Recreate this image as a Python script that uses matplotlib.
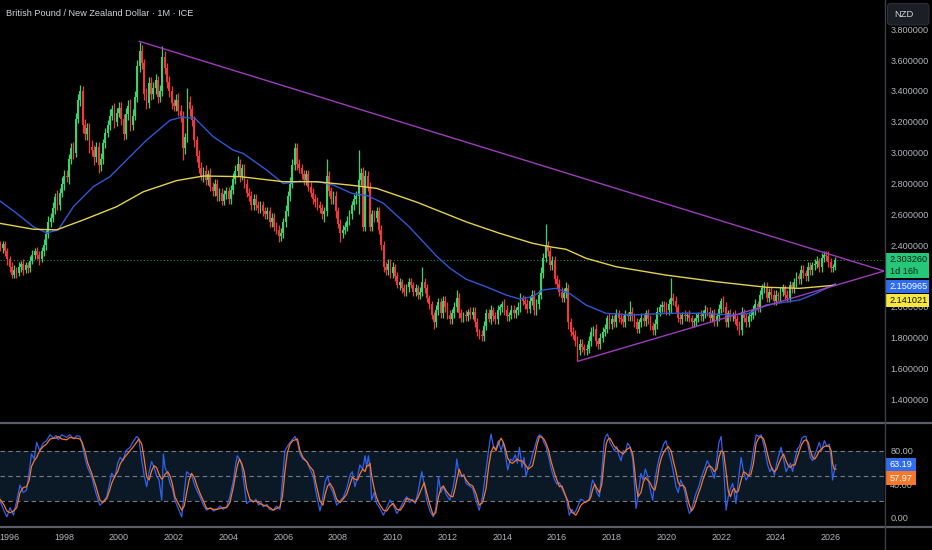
import numpy as np
import matplotlib.pyplot as plt
from matplotlib.patches import Rectangle, FancyBboxPatch

# ---- data ----
# monthly closes GBP/NZD, Aug 1995 .. Mar 2026
close = [
    2.40, 2.38, 2.41, 2.36, 2.31,                                        # 1995 Aug-Dec
    2.26, 2.21, 2.24, 2.22, 2.26, 2.28, 2.24, 2.27, 2.25, 2.30, 2.34, 2.36,  # 1996
    2.34, 2.31, 2.36, 2.40, 2.47, 2.55, 2.58, 2.64, 2.71, 2.66, 2.74, 2.80,  # 1997
    2.85, 2.84, 2.96, 3.03, 3.00, 3.22, 3.34, 3.40, 3.18, 3.12, 3.16, 3.04,  # 1998
    3.02, 2.97, 3.04, 2.92, 2.96, 3.06, 3.13, 3.18, 3.24, 3.28, 3.20, 3.26,  # 1999
    3.29, 3.22, 3.12, 3.25, 3.30, 3.18, 3.24, 3.36, 3.56, 3.66, 3.58, 3.38,  # 2000
    3.32, 3.45, 3.38, 3.42, 3.47, 3.36, 3.40, 3.62, 3.55, 3.46, 3.40, 3.32,  # 2001
    3.30, 3.34, 3.27, 3.24, 3.03, 3.10, 3.33, 3.28, 3.21, 3.08, 2.98, 2.90,  # 2002
    2.85, 2.88, 2.82, 2.86, 2.78, 2.75, 2.80, 2.72, 2.74, 2.69, 2.73, 2.75,  # 2003
    2.70, 2.76, 2.83, 2.88, 2.93, 2.85, 2.90, 2.80, 2.74, 2.72, 2.66, 2.70,  # 2004
    2.66, 2.64, 2.66, 2.62, 2.60, 2.62, 2.55, 2.58, 2.52, 2.50, 2.46, 2.48,  # 2005
    2.55, 2.62, 2.72, 2.80, 2.92, 3.03, 2.93, 2.90, 2.86, 2.82, 2.86, 2.78,  # 2006
    2.74, 2.70, 2.68, 2.66, 2.64, 2.60, 2.62, 2.85, 2.75, 2.70, 2.72, 2.62,  # 2007
    2.54, 2.48, 2.50, 2.52, 2.56, 2.60, 2.66, 2.70, 2.72, 2.82, 2.87, 2.52,  # 2008
    2.85, 2.78, 2.52, 2.60, 2.58, 2.62, 2.50, 2.40, 2.26, 2.24, 2.28, 2.22,  # 2009
    2.26, 2.20, 2.14, 2.16, 2.12, 2.10, 2.13, 2.16, 2.14, 2.10, 2.12, 2.08,  # 2010
    2.10, 2.16, 2.12, 2.06, 2.02, 1.95, 1.90, 1.98, 2.03, 1.96, 2.04, 2.00,  # 2011
    1.95, 1.92, 1.96, 2.00, 2.06, 1.96, 1.93, 1.95, 1.94, 1.97, 1.95, 1.97,  # 2012
    1.90, 1.84, 1.82, 1.81, 1.88, 1.96, 1.92, 1.98, 1.94, 1.92, 1.98, 2.00,  # 2013
    2.02, 1.98, 1.94, 1.95, 1.98, 1.96, 1.98, 2.00, 2.06, 2.04, 2.02, 1.99,  # 2014
    2.04, 2.08, 1.98, 2.02, 2.08, 2.22, 2.32, 2.40, 2.36, 2.27, 2.30, 2.18,  # 2015
    2.15, 2.10, 2.06, 2.09, 2.12, 1.90, 1.84, 1.82, 1.78, 1.72, 1.76, 1.74,  # 2016
    1.72, 1.73, 1.78, 1.84, 1.86, 1.78, 1.76, 1.80, 1.84, 1.86, 1.93, 1.89,  # 2017
    1.92, 1.90, 1.96, 1.93, 1.92, 1.90, 1.95, 1.94, 1.97, 1.94, 1.90, 1.86,  # 2018
    1.90, 1.93, 1.91, 1.96, 1.92, 1.88, 1.85, 1.89, 1.97, 2.00, 2.01, 2.00,  # 2019
    1.98, 2.02, 2.06, 2.04, 2.00, 1.93, 1.92, 1.95, 1.94, 1.95, 1.93, 1.90,  # 2020
    1.91, 1.93, 1.95, 1.94, 1.96, 1.98, 1.97, 1.93, 1.96, 1.91, 1.94, 1.99,  # 2021
    2.04, 2.00, 1.90, 1.96, 1.94, 1.95, 1.92, 1.88, 1.85, 1.97, 1.93, 1.90,  # 2022
    1.94, 1.95, 1.98, 2.02, 2.00, 2.08, 2.12, 2.13, 2.06, 2.10, 2.08, 2.04,  # 2023
    2.08, 2.07, 2.10, 2.12, 2.08, 2.06, 2.14, 2.12, 2.16, 2.20, 2.18, 2.24,  # 2024
    2.22, 2.20, 2.26, 2.24, 2.27, 2.28, 2.30, 2.26, 2.32, 2.34, 2.33, 2.29,  # 2025
    2.255, 2.26, 2.30326,                                                # 2026
]
first_open = 2.42

# wick beyond the body, in 0.01 NZD
wick_up = [
    2, 3, 2, 2, 2,
    2, 3, 3, 2, 3, 2, 3, 2, 2, 3, 3, 2,
    3, 2, 3, 4, 3, 4, 3, 4, 3, 5, 3, 4,
    4, 4, 3, 3, 4, 4, 4, 4, 3, 4, 3, 3,
    4, 3, 3, 3, 4, 3, 3, 3, 4, 3, 4, 3,
    4, 4, 3, 4, 4, 5, 4, 4, 4, 6, 4, 3,
    4, 4, 4, 4, 4, 3, 4, 7, 4, 3, 4, 3,
    3, 4, 5, 4, 3, 3, 9, 4, 3, 3, 3, 4,
    4, 3, 4, 3, 4, 3, 3, 3, 3, 3, 3, 3,
    3, 3, 4, 4, 5, 3, 3, 3, 3, 3, 3, 3,
    3, 3, 3, 3, 3, 3, 3, 3, 3, 3, 3, 3,
    3, 4, 3, 4, 4, 3, 3, 3, 3, 3, 3, 3,
    3, 3, 3, 3, 3, 3, 3, 11, 3, 3, 3, 3,
    3, 3, 3, 3, 3, 3, 3, 3, 3, 20, 3, 4,
    4, 3, 3, 3, 3, 3, 3, 3, 3, 3, 3, 3,
    3, 2, 3, 3, 2, 3, 2, 3, 3, 2, 3, 2,
    3, 10, 3, 3, 2, 2, 2, 3, 3, 3, 3, 3,
    3, 3, 3, 3, 5, 3, 3, 2, 3, 2, 3, 3,
    3, 3, 2, 3, 3, 3, 3, 3, 2, 3, 3, 2,
    2, 3, 3, 2, 3, 3, 2, 3, 3, 2, 3, 3,
    3, 3, 3, 3, 3, 4, 3, 14, 3, 3, 3, 3,
    3, 3, 3, 3, 4, 3, 3, 3, 3, 3, 3, 3,
    2, 3, 3, 3, 2, 3, 2, 3, 3, 3, 2, 3,
    3, 3, 3, 2, 3, 3, 3, 2, 7, 3, 2, 3,
    2, 3, 3, 2, 3, 3, 2, 3, 3, 2, 3, 3,
    3, 3, 13, 3, 3, 2, 3, 2, 3, 2, 3, 2,
    2, 3, 2, 3, 2, 3, 2, 3, 2, 3, 2, 3,
    2, 3, 3, 2, 3, 2, 3, 3, 3, 3, 2, 3,
    3, 3, 3, 3, 2, 3, 3, 3, 3, 2, 3, 3,
    3, 2, 3, 3, 2, 3, 3, 2, 3, 3, 2, 3,
    3, 2, 3, 3, 2, 3, 3, 2, 3, 2, 2, 3,
    3, 2, 2,
]
wick_dn = [
    3, 2, 3, 3, 4,
    3, 2, 2, 3, 2, 3, 3, 2, 3, 2, 2, 3,
    3, 4, 2, 3, 3, 2, 3, 3, 4, 3, 3, 3,
    4, 3, 4, 3, 4, 3, 3, 4, 5, 4, 4, 4,
    4, 5, 3, 5, 4, 3, 3, 3, 3, 3, 4, 3,
    3, 4, 4, 3, 4, 4, 3, 3, 3, 4, 4, 4,
    4, 3, 4, 3, 4, 4, 3, 3, 4, 4, 4, 4,
    3, 3, 3, 4, 8, 4, 3, 4, 4, 4, 4, 3,
    3, 4, 3, 3, 3, 3, 3, 3, 3, 3, 3, 3,
    3, 3, 3, 3, 3, 4, 3, 3, 3, 3, 3, 3,
    3, 3, 3, 3, 3, 3, 3, 3, 3, 3, 4, 3,
    3, 3, 3, 3, 3, 3, 4, 3, 3, 3, 3, 3,
    3, 3, 3, 3, 3, 3, 5, 3, 3, 3, 3, 4,
    3, 6, 3, 3, 3, 3, 3, 3, 3, 12, 3, 3,
    3, 3, 3, 3, 3, 3, 3, 3, 3, 3, 3, 3,
    3, 3, 2, 3, 3, 3, 3, 3, 2, 3, 3, 3,
    3, 3, 3, 3, 3, 3, 4, 3, 3, 3, 3, 3,
    3, 3, 3, 3, 3, 3, 3, 3, 3, 3, 3, 3,
    3, 3, 3, 3, 3, 3, 2, 3, 3, 3, 3, 3,
    3, 3, 3, 3, 3, 3, 3, 3, 3, 3, 3, 3,
    3, 3, 3, 3, 3, 3, 3, 3, 3, 3, 3, 3,
    3, 3, 3, 3, 3, 4, 3, 3, 3, 7, 3, 3,
    3, 3, 3, 3, 3, 3, 3, 3, 3, 3, 3, 3,
    3, 3, 3, 3, 3, 3, 3, 3, 3, 3, 3, 3,
    3, 3, 3, 3, 3, 3, 3, 3, 3, 3, 3, 3,
    3, 3, 6, 3, 3, 3, 3, 3, 3, 3, 3, 3,
    3, 3, 3, 3, 3, 3, 3, 3, 3, 3, 3, 3,
    3, 3, 3, 3, 3, 3, 3, 3, 3, 3, 3, 3,
    3, 3, 3, 3, 3, 3, 3, 3, 3, 3, 3, 3,
    3, 3, 3, 3, 3, 3, 3, 3, 3, 3, 3, 3,
    3, 3, 3, 3, 3, 3, 3, 3, 3, 3, 3, 3,
    3, 3, 2,
]

# moving averages (sampled from the chart)
ma_fast_t = [1995.65, 1996.26, 1996.87, 1997.36, 1997.78, 1998.33, 1999.06, 1999.67,
             2000.52, 2001.01, 2001.86, 2002.29, 2002.77, 2003.44, 2004.17, 2004.54,
             2005.39, 2006.0, 2006.61, 2007.34, 2007.83, 2008.5, 2009.1, 2009.66,
             2010.6, 2011.6, 2012.1, 2012.68, 2013.4, 2014.14, 2014.62, 2015.11,
             2015.48, 2015.96, 2016.45, 2017.06, 2017.79, 2018.77, 2019.98, 2021.2,
             2022.42, 2023.03, 2023.64, 2024.86, 2025.47, 2026.17]
ma_fast_v = [2.687, 2.607, 2.52, 2.48, 2.50, 2.65, 2.78, 2.845,
             2.996, 3.082, 3.21, 3.23, 3.223, 3.104, 3.017, 2.995,
             2.888, 2.80, 2.815, 2.81, 2.79, 2.737, 2.72, 2.672,
             2.52, 2.33, 2.25, 2.18, 2.132, 2.078, 2.052, 2.067,
             2.11, 2.121, 2.089, 2.013, 1.959, 1.948, 1.959, 1.959,
             1.948, 1.959, 2.013, 2.045, 2.089, 2.150965]
ma_slow_t = [1995.65, 1996.87, 1997.72, 1998.69, 1999.91, 2000.89, 2002.1, 2003.08,
             2004.42, 2006.0, 2007.22, 2008.44, 2009.41, 2010.87, 2012.68, 2013.9,
             2015.11, 2015.72, 2016.33, 2017.06, 2018.16, 2019.98, 2021.81, 2023.64,
             2024.86, 2026.17]
ma_slow_v = [2.542, 2.504, 2.50, 2.564, 2.65, 2.747, 2.819, 2.849,
             2.845, 2.812, 2.812, 2.79, 2.769, 2.68, 2.552, 2.478,
             2.413, 2.391, 2.374, 2.316, 2.261, 2.207, 2.164, 2.128,
             2.121, 2.141021]

# triangle trend lines
trend_hi_t = [2000.74, 2027.95]
trend_hi_v = [3.722, 2.233]
trend_lo_t = [2016.76, 2027.95]
trend_lo_v = [1.648, 2.233]

# stochastic RSI (%K, %D) sampled from the lower pane
stoch = [
    (1995.65, 20, 22), (1995.80, 8, 15), (1995.90, 1, 8), (1996.02, 12, 6), (1996.14, 3, 8),
    (1996.26, 20, 12), (1996.38, 39, 30), (1996.50, 30, 36), (1996.62, 33, 37), (1996.72, 55, 45),
    (1996.80, 76, 61), (1996.90, 70, 68), (1996.99, 90, 72), (1997.10, 80, 80), (1997.23, 89, 85),
    (1997.35, 92, 88), (1997.48, 99, 94), (1997.60, 95, 95), (1997.70, 98, 95), (1997.78, 93, 97),
    (1997.90, 99, 94), (1998.09, 96, 93), (1998.20, 99, 96), (1998.35, 94, 95), (1998.45, 98, 95),
    (1998.57, 97, 94), (1998.65, 88, 90), (1998.75, 72, 80), (1998.85, 60, 66), (1999.00, 49, 53),
    (1999.15, 30, 38), (1999.30, 15, 21), (1999.40, 18, 18), (1999.55, 25, 23), (1999.65, 40, 32),
    (1999.73, 53, 41), (1999.85, 48, 50), (1999.95, 65, 55), (2000.04, 72, 64), (2000.15, 68, 70),
    (2000.25, 80, 74), (2000.40, 84, 80), (2000.50, 90, 84), (2000.64, 97, 90), (2000.72, 95, 94),
    (2000.83, 68, 88), (2000.92, 50, 70), (2001.01, 37, 49), (2001.10, 55, 45), (2001.19, 67, 56),
    (2001.28, 60, 62), (2001.37, 50, 60), (2001.46, 45, 52), (2001.56, 21, 46), (2001.62, 76, 48),
    (2001.68, 60, 52), (2001.78, 52, 55), (2001.86, 41, 50), (2001.95, 35, 40), (2002.04, 21, 25),
    (2002.15, 12, 18), (2002.29, 1, 9), (2002.38, 30, 14), (2002.47, 55, 30), (2002.56, 52, 45),
    (2002.65, 51, 53), (2002.75, 40, 48), (2002.85, 32, 38), (2002.96, 25, 29), (2003.08, 15, 20),
    (2003.20, 9, 11), (2003.35, 12, 11), (2003.45, 8, 10), (2003.57, 10, 10), (2003.70, 14, 11),
    (2003.80, 10, 12), (2003.93, 13, 12), (2004.05, 25, 18), (2004.18, 45, 37), (2004.25, 62, 50),
    (2004.32, 74, 62), (2004.40, 70, 70), (2004.48, 63, 65), (2004.57, 40, 55), (2004.66, 17, 35),
    (2004.78, 20, 22), (2004.91, 19, 19), (2005.00, 22, 20), (2005.10, 15, 18), (2005.20, 18, 16),
    (2005.27, 13, 15), (2005.40, 16, 14), (2005.50, 10, 12), (2005.64, 9, 9), (2005.75, 14, 11),
    (2005.88, 10, 13), (2005.97, 45, 25), (2006.06, 80, 55), (2006.15, 85, 78), (2006.25, 90, 88),
    (2006.35, 94, 92), (2006.43, 97, 93), (2006.52, 90, 94), (2006.61, 76, 80), (2006.72, 70, 72),
    (2006.86, 67, 67), (2006.95, 60, 62), (2007.10, 49, 56), (2007.20, 30, 40), (2007.34, 8, 20),
    (2007.45, 25, 15), (2007.53, 43, 28), (2007.62, 50, 38), (2007.71, 37, 41), (2007.82, 30, 35),
    (2007.95, 15, 22), (2008.08, 20, 18), (2008.20, 25, 23), (2008.32, 35, 28), (2008.44, 51, 40),
    (2008.52, 55, 48), (2008.62, 37, 46), (2008.72, 50, 45), (2008.80, 63, 52), (2008.90, 58, 58),
    (2008.99, 74, 55), (2009.05, 60, 62), (2009.11, 74, 62), (2009.17, 60, 65), (2009.23, 21, 50),
    (2009.32, 30, 35), (2009.41, 17, 24), (2009.52, 12, 16), (2009.66, 3, 9), (2009.78, 12, 8),
    (2009.90, 21, 14), (2010.02, 15, 17), (2010.15, 5, 10), (2010.28, 12, 9), (2010.40, 20, 15),
    (2010.51, 25, 23), (2010.62, 18, 22), (2010.72, 22, 20), (2010.82, 17, 19), (2010.92, 30, 24),
    (2011.06, 55, 35), (2011.15, 40, 42), (2011.24, 21, 30), (2011.36, 8, 15), (2011.48, 1, 3),
    (2011.57, 10, 6), (2011.67, 49, 25), (2011.76, 30, 35), (2011.85, 37, 38), (2011.95, 28, 32),
    (2012.09, 21, 26), (2012.20, 35, 25), (2012.28, 50, 35), (2012.34, 70, 45), (2012.43, 50, 58),
    (2012.52, 49, 50), (2012.60, 52, 50), (2012.68, 41, 45), (2012.80, 38, 40), (2012.92, 35, 38),
    (2013.05, 20, 28), (2013.16, 9, 15), (2013.28, 25, 18), (2013.41, 57, 35), (2013.50, 80, 60),
    (2013.59, 100, 78), (2013.68, 85, 85), (2013.77, 82, 80), (2013.86, 92, 88), (2013.96, 80, 95),
    (2014.04, 90, 90), (2014.12, 75, 82), (2014.20, 57, 71), (2014.30, 70, 66), (2014.38, 68, 65),
    (2014.48, 75, 68), (2014.55, 65, 70), (2014.63, 84, 68), (2014.72, 60, 68), (2014.80, 72, 65),
    (2014.87, 49, 62), (2014.95, 60, 58), (2015.03, 65, 60), (2015.11, 76, 62), (2015.20, 85, 75),
    (2015.28, 95, 88), (2015.36, 99, 97), (2015.45, 97, 96), (2015.52, 90, 94), (2015.60, 85, 89),
    (2015.70, 72, 80), (2015.78, 60, 68), (2015.84, 53, 61), (2015.92, 45, 52), (2016.00, 40, 45),
    (2016.09, 42, 37), (2016.18, 35, 38), (2016.25, 30, 32), (2016.33, 25, 25), (2016.40, 12, 20),
    (2016.45, 3, 12), (2016.55, 10, 6), (2016.62, 5, 5), (2016.69, 8, 3), (2016.78, 15, 8),
    (2016.86, 22, 14), (2016.94, 21, 17), (2017.05, 18, 19), (2017.18, 22, 21), (2017.24, 35, 25),
    (2017.30, 45, 33), (2017.38, 40, 40), (2017.46, 30, 35), (2017.55, 25, 30), (2017.64, 55, 40),
    (2017.73, 92, 70), (2017.80, 98, 88), (2017.85, 100, 93), (2017.93, 90, 95), (2018.02, 85, 90),
    (2018.10, 80, 85), (2018.18, 85, 83), (2018.26, 75, 80), (2018.34, 68, 78), (2018.42, 80, 76),
    (2018.50, 78, 80), (2018.58, 89, 82), (2018.67, 85, 84), (2018.77, 70, 76), (2018.83, 40, 60),
    (2018.89, 11, 40), (2018.96, 25, 25), (2019.07, 53, 30), (2019.15, 45, 42), (2019.23, 58, 48),
    (2019.31, 50, 45), (2019.40, 35, 42), (2019.50, 21, 35), (2019.58, 45, 33), (2019.66, 60, 45),
    (2019.74, 72, 62), (2019.82, 80, 72), (2019.90, 88, 78), (2019.98, 92, 82), (2020.07, 80, 85),
    (2020.17, 68, 80), (2020.25, 55, 68), (2020.35, 37, 55), (2020.43, 30, 42), (2020.52, 45, 38),
    (2020.60, 39, 39), (2020.68, 30, 36), (2020.76, 15, 25), (2020.84, 5, 15), (2020.92, 10, 8),
    (2021.00, 20, 12), (2021.08, 29, 20), (2021.16, 35, 28), (2021.25, 45, 36), (2021.33, 53, 45),
    (2021.41, 60, 52), (2021.49, 68, 60), (2021.57, 63, 62), (2021.66, 55, 60), (2021.75, 47, 55),
    (2021.84, 70, 58), (2021.92, 90, 72), (2022.00, 97, 80), (2022.09, 60, 78), (2022.18, 9, 55),
    (2022.26, 25, 32), (2022.34, 35, 25), (2022.42, 41, 33), (2022.48, 30, 35), (2022.54, 17, 30),
    (2022.63, 45, 32), (2022.73, 72, 45), (2022.82, 55, 55), (2022.91, 45, 53), (2023.00, 50, 50),
    (2023.09, 61, 52), (2023.18, 80, 65), (2023.28, 99, 89), (2023.37, 97, 95), (2023.46, 99, 97),
    (2023.55, 88, 94), (2023.63, 75, 85), (2023.70, 63, 75), (2023.78, 55, 65), (2023.86, 60, 58),
    (2023.95, 51, 55), (2024.03, 65, 58), (2024.11, 75, 65), (2024.19, 84, 71), (2024.28, 70, 76),
    (2024.37, 55, 68), (2024.45, 60, 62), (2024.53, 65, 60), (2024.61, 55, 63), (2024.70, 70, 63),
    (2024.78, 82, 72), (2024.86, 85, 80), (2024.95, 95, 88), (2025.03, 97, 92), (2025.10, 97, 93),
    (2025.18, 85, 90), (2025.26, 72, 80), (2025.34, 68, 72), (2025.42, 75, 70), (2025.50, 82, 74),
    (2025.59, 90, 80), (2025.67, 80, 82), (2025.77, 92, 85), (2025.86, 85, 86), (2025.95, 88, 85),
    (2026.02, 70, 80), (2026.07, 45, 65), (2026.13, 55, 58), (2026.19, 63.19, 57.97),
]

last_price = 2.303260
countdown = "1d 16h"
year_ticks = list(range(1996, 2027, 2))
# 2.2 sits fully under the value tags, so only the visible levels are labelled
price_ticks = [1.4, 1.6, 1.8, 2.0, 2.4, 2.6, 2.8, 3.0, 3.2, 3.4, 3.6, 3.8]
title = "British Pound / New Zealand Dollar \u00b7 1M \u00b7 ICE"

# ---- style ----
BG = "#000000"
UP = "#3ad26e"
DN = "#ee3a3c"
TXT = "#b2b5be"
plt.rcParams["font.family"] = ["Liberation Sans", "DejaVu Sans"]
LBL = 6.6

W, H = 932, 550
fig = plt.figure(figsize=(W / 100, H / 100), dpi=100, facecolor=BG)
ax = fig.add_axes([0, 1 - 422 / H, 884 / W, 422 / H], facecolor=BG)
ax2 = fig.add_axes([0, 1 - 527 / H, 884 / W, 104 / H], facecolor=BG)

x_lo, x_hi = 1995.65, 2027.95

# ---- candles ----
c = np.array(close)
o = np.concatenate([[first_open], c[:-1]])
hi = np.maximum(o, c) + np.array(wick_up) / 100
lo = np.minimum(o, c) - np.array(wick_dn) / 100
t = 1995 + 7 / 12 + np.arange(len(c)) / 12
cols = np.where(c >= o, UP, DN)
body = np.where(np.abs(c - o) < 0.005, 0.005, c - o)

ax.vlines(t, lo, hi, colors=cols, lw=0.9, zorder=2)
ax.bar(t, body, bottom=o, width=0.066, color=cols, lw=0, zorder=2)

ax.plot(ma_fast_t, ma_fast_v, color="#3057d8", lw=1.0, zorder=3)
ax.plot(ma_slow_t, ma_slow_v, color="#e4d24e", lw=1.0, zorder=3)
ax.plot(trend_hi_t, trend_hi_v, color="#9d3cbc", lw=1.0, zorder=4)
ax.plot(trend_lo_t, trend_lo_v, color="#9d3cbc", lw=1.0, zorder=4)
ax.axhline(last_price, color="#1e8a5a", lw=0.8, ls=(0, (1, 2)), zorder=1)

ax.set_xlim(x_lo, x_hi)
ax.set_ylim(2.0 - 115 / 154.3, 2.0 + 307 / 154.3)
ax.set_xticks([])
ax.yaxis.tick_right()
ax.set_yticks(price_ticks)
ax.set_yticklabels(["%.6f" % v for v in price_ticks])
ax.tick_params(axis="y", length=0, pad=4.5, labelsize=LBL, labelcolor=TXT)
for s in ax.spines.values():
    s.set_visible(False)

# ---- stochastic RSI pane ----
st_t = [r[0] for r in stoch]
st_k = [r[1] for r in stoch]
st_d = [r[2] for r in stoch]
ax2.axhspan(20, 80, color="#0b1826", lw=0, zorder=0)
for lvl in (80, 50, 20):
    ax2.axhline(lvl, color="#787b86", lw=0.8, ls=(0, (4, 3)), zorder=1)
ax2.plot(st_t, st_k, color="#2f62f0", lw=0.9, zorder=3)
ax2.plot(st_t, st_d, color="#f5772a", lw=0.9, zorder=4)
ax2.set_xlim(x_lo, x_hi)
ax2.set_ylim(-11.1, 113.1)
ax2.yaxis.tick_right()
ax2.set_yticks([0, 40, 80])
ax2.set_yticklabels(["0.00", "40.00", "80.00"])
ax2.set_xticks(year_ticks)
ax2.set_xticklabels([str(y) for y in year_ticks])
ax2.tick_params(axis="y", length=0, pad=4.5, labelsize=LBL, labelcolor=TXT)
ax2.tick_params(axis="x", length=0, pad=4.5, labelsize=6.5, labelcolor=TXT)
for s in ax2.spines.values():
    s.set_visible(False)

# ---- overlay in pixel coordinates: separators, labels, boxes ----
ov = fig.add_axes([0, 0, 1, 1], facecolor="none", zorder=10)
ov.set_xlim(0, W)
ov.set_ylim(H, 0)
ov.axis("off")

ov.plot([0, W], [422.5, 422.5], color="#5a5d66", lw=1.6)
ov.plot([0, W], [527, 527], color="#5a5d66", lw=1.6)
ov.plot([884.5, 884.5], [0, H], color="#3b3e47", lw=1.0)

ov.text(6, 14, title, color="#d1d4dc", fontsize=6.6, va="center", ha="left")

nzd = FancyBboxPatch((887.5, 3.5), 41.5, 21.5, boxstyle="round,pad=0,rounding_size=3",
                     fc="#1b1e25", ec="#2b2e36", lw=0.8)
ov.add_patch(nzd)
ov.text(894, 14.5, "NZD", color="#d1d4dc", fontsize=6.8, va="center", ha="left")


def px_y(axis, v):
    return H - axis.transData.transform((x_lo, v))[1]


def tag(y0, h, fc, lines, tc, x1=928.5):
    ov.add_patch(Rectangle((884.5, y0), x1 - 884.5, h, fc=fc, ec="none"))
    step = h / len(lines)
    for i, s in enumerate(lines):
        ov.text(889.5, y0 + step * (i + 0.5), s, color=tc, fontsize=LBL,
                va="center", ha="left")


fig.canvas.draw()
yg = px_y(ax, last_price)
tag(yg - 7, 25, "#24c878", ["%.6f" % last_price, countdown], "#0c1f14")
tag(yg + 19.5, 13, "#2f6cf0", ["%.6f" % ma_fast_v[-1]], "#ffffff")
tag(yg + 33.5, 13, "#f6e741", ["%.6f" % ma_slow_v[-1]], "#111111")

yk = px_y(ax2, st_k[-1])
tag(yk - 6.5, 13, "#2f6cf0", ["%.2f" % st_k[-1]], "#ffffff", x1=915.5)
tag(yk + 6.5, 14, "#f5772a", ["%.2f" % st_d[-1]], "#ffffff", x1=915.5)

fig.savefig("out.png", dpi=100, facecolor=BG)
